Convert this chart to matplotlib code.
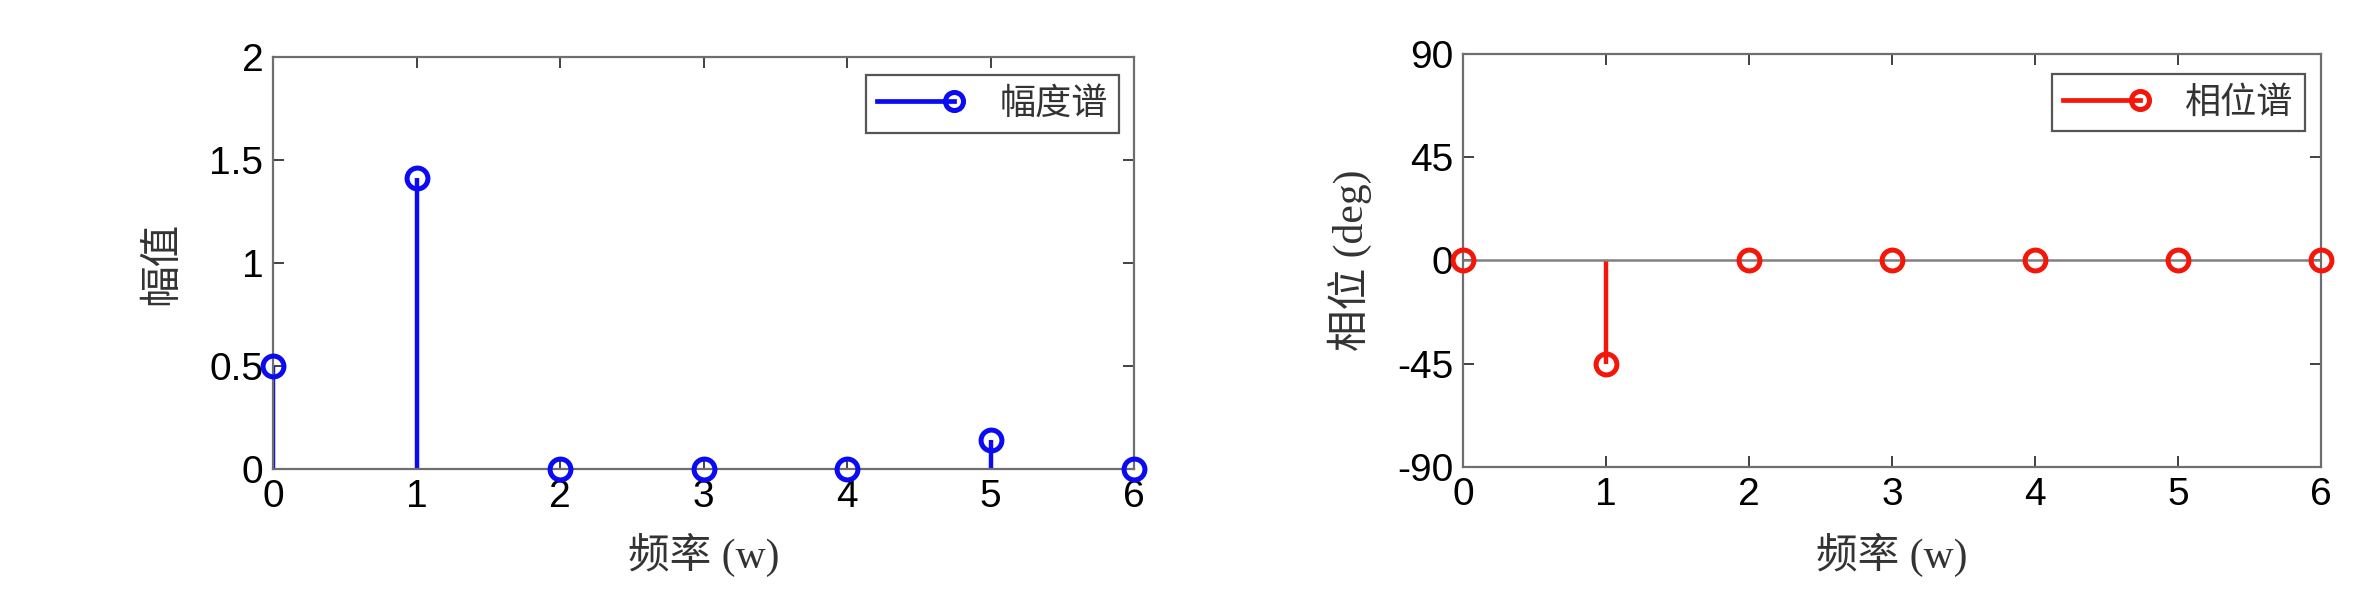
import numpy as np
import matplotlib
matplotlib.use("Agg")
import matplotlib.pyplot as plt
from matplotlib.lines import Line2D
from matplotlib.legend_handler import HandlerBase

# data
freq = [0, 1, 2, 3, 4, 5, 6]
amplitude = [0.5, 1.414, 0.0, 0.0, 0.0, 0.14, 0.0]
phase = [0, -45, 0, 0, 0, 0, 0]

amp_ticks = [0, 0.5, 1, 1.5, 2]
amp_ticklabels = ["0", "0.5", "1", "1.5", "2"]
phase_ticks = [-90, -45, 0, 45, 90]

BLUE = "#0a0af5"
RED = "#f5160a"
SPINE = "#6e6e6e"

plt.rcParams["font.family"] = ["Liberation Sans", "Noto Sans CJK SC"]
plt.rcParams["axes.unicode_minus"] = False
LABEL_FONT = ["Liberation Serif", "Noto Sans CJK SC"]


class StemKey(HandlerBase):
    # MATLAB-like legend key: line with the marker on its right end
    def create_artists(self, legend, orig, xd, yd, w, h, fontsize, trans):
        y = h / 2 - yd
        x0, x1 = -xd, -xd + w
        r = 0.36 * fontsize
        line = Line2D([x0, x1 - r], [y, y], color=orig.get_color(), lw=3.4,
                      transform=trans)
        mk = Line2D([x1 - r], [y], marker="o", ms=13, mew=3.6,
                    mec=orig.get_color(), mfc="none", linestyle="none",
                    transform=trans)
        return [line, mk]


def draw_stem(ax, x, y, color, label):
    ml, sl, bl = ax.stem(x, y, linefmt="-", markerfmt="o", basefmt="-")
    sl.set_color(color)
    sl.set_linewidth(3.2)
    ml.set_markerfacecolor("none")
    ml.set_markeredgecolor(color)
    ml.set_markersize(15)
    ml.set_markeredgewidth(3.6)
    ml.set_clip_on(False)
    ml.set_zorder(4)
    bl.set_color("#808080")
    bl.set_linewidth(1.8)
    bl.set_zorder(2)
    key = Line2D([], [], color=color, label=label)
    return key


def style_axes(ax):
    for s in ax.spines.values():
        s.set_color(SPINE)
        s.set_linewidth(1.6)
    ax.tick_params(direction="in", length=8, width=1.3, color="#333333",
                   top=True, right=True, labelsize=28, pad=7,
                   labelcolor="black")
    ax.set_xlim(0, 6)
    ax.set_xticks(freq)


fig = plt.figure(figsize=(23.7, 6.08), dpi=100, facecolor="white")
ax1 = fig.add_axes([0.1152, 0.2286, 0.3633, 0.6776])
ax2 = fig.add_axes([0.6173, 0.2319, 0.3620, 0.6793])

# amplitude spectrum
k1 = draw_stem(ax1, freq, amplitude, BLUE, "幅度谱")
style_axes(ax1)
ax1.set_ylim(0, 2)
ax1.set_yticks(amp_ticks, amp_ticklabels)
ax1.set_ylabel("幅值", family=LABEL_FONT, fontsize=30, color="#333333")
ax1.yaxis.set_label_coords(-0.106, 0.5)
ax1.set_xlabel("频率 (w)", family=LABEL_FONT, fontsize=30, color="#333333",
               va="baseline")
ax1.xaxis.set_label_coords(0.5, -0.24)
leg1 = ax1.legend(handles=[k1], handler_map={Line2D: StemKey()},
                  loc="upper right", bbox_to_anchor=(0.9826, 0.956),
                  borderaxespad=0, fancybox=False, framealpha=1,
                  prop={"family": "Noto Sans CJK SC", "size": 26},
                  handlelength=2.5, handletextpad=0.9, borderpad=0.3,
                  labelcolor="#333333")
leg1.get_frame().set_edgecolor("#555555")
leg1.get_frame().set_linewidth(1.6)

# phase spectrum
k2 = draw_stem(ax2, freq, phase, RED, "相位谱")
style_axes(ax2)
ax2.set_ylim(-90, 90)
ax2.set_yticks(phase_ticks)
ax2.set_ylabel("相位 (deg)", family=LABEL_FONT, fontsize=30, color="#333333")
ax2.yaxis.set_label_coords(-0.106, 0.5)
ax2.set_xlabel("频率 (w)", family=LABEL_FONT, fontsize=30, color="#333333",
               va="baseline")
ax2.xaxis.set_label_coords(0.5, -0.245)
leg2 = ax2.legend(handles=[k2], handler_map={Line2D: StemKey()},
                  loc="upper right", bbox_to_anchor=(0.981, 0.952),
                  borderaxespad=0, fancybox=False, framealpha=1,
                  prop={"family": "Noto Sans CJK SC", "size": 26},
                  handlelength=2.5, handletextpad=0.9, borderpad=0.3,
                  labelcolor="#333333")
leg2.get_frame().set_edgecolor("#555555")
leg2.get_frame().set_linewidth(1.6)

fig.savefig("out.png", dpi=100, facecolor="white")
plt.close(fig)
